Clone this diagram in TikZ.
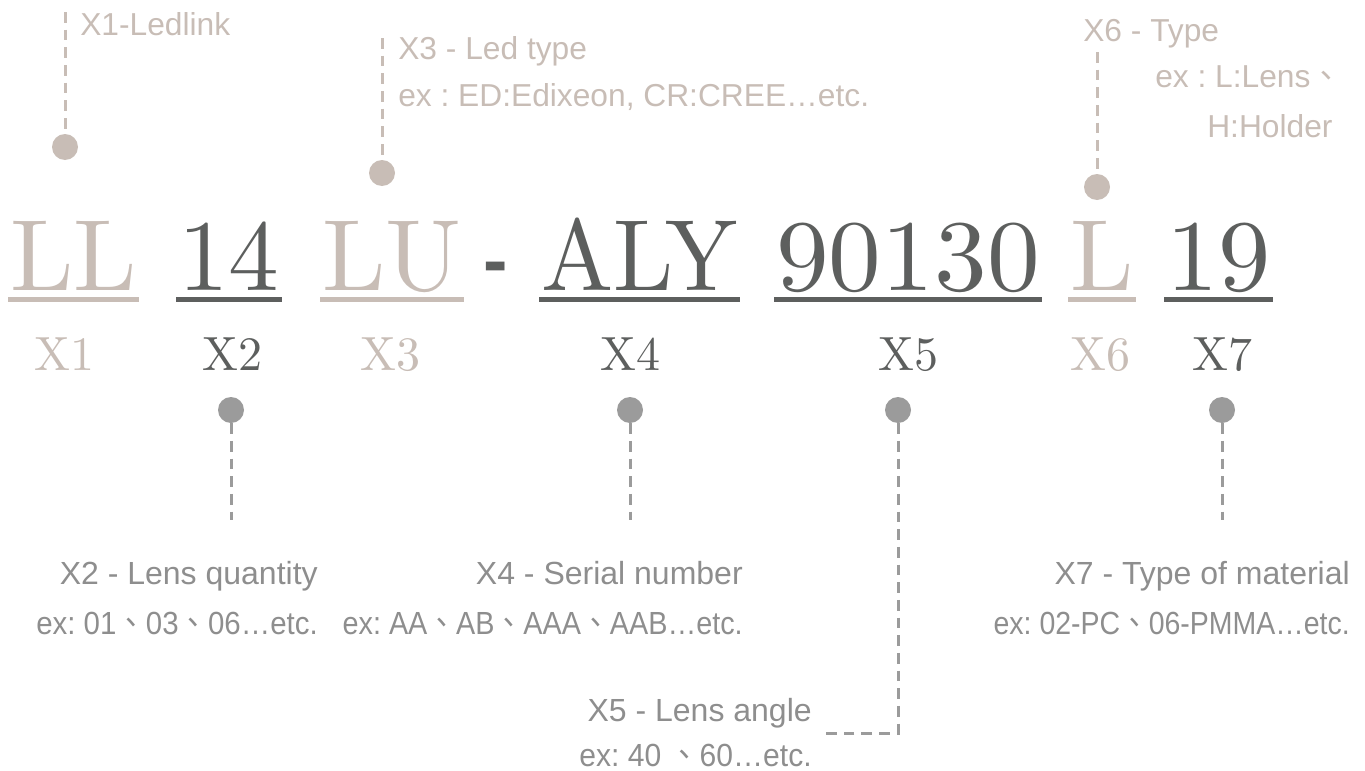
\documentclass[tikz,border=0pt]{standalone}
\usepackage{fontspec}
\usepackage{graphicx}
\newfontfamily\lmten[Extension=.otf]{lmroman10-regular}
\newfontfamily\sans{Liberation Sans}
\newfontfamily\cjk{Noto Sans CJK TC}
\newcommand\dun{\smash{\cjk 、}}
\frenchspacing
\definecolor{beige}{HTML}{C8BDB6}
\definecolor{dark}{HTML}{5D5F5E}
\definecolor{txtgray}{HTML}{8E8E8E}
\definecolor{dotgray}{HTML}{9B9B9B}
\tikzset{
  codetxt/.style={inner sep=0pt, anchor=base west, font=\lmten\fontsize{76}{80}\selectfont},
  lab/.style={inner sep=0pt, anchor=base, font=\lmten\fontsize{36}{40}\selectfont},
  note/.style={inner sep=0pt, font=\sans\fontsize{23.8}{27}\selectfont},
  bnote/.style={inner sep=0pt, anchor=base east, text=txtgray, font=\sans\fontsize{24}{27}\selectfont},
  dot/.style={circle, inner sep=0pt, minimum size=19.5pt},
  lead/.style={line width=2.25pt, dash pattern=on 8pt off 5.25pt},
  uline/.style={line width=3.75pt}
}
\begin{document}
\begin{tikzpicture}[x=0.75pt,y=-0.75pt]
\useasboundingbox (0,0) rectangle (1365,771);
% code letters
\node[codetxt, text=beige] (c1) at (10,290) {LL};
\node[codetxt, text=dark] (c2) at (178,290) {14};
\node[codetxt, text=beige] (c3) at (322,290) {LU};
\node[inner sep=0pt, anchor=base, text=dark, font=\sans\bfseries\fontsize{55}{60}\selectfont] (hy) at (496,285) {-};
\node[codetxt, text=dark] (c4) at (541,290) {\scalebox{0.95}[1]{ALY}};
\node[codetxt, text=dark] (c5) at (776,290) {\scalebox{1.04}[1]{90130}};
\node[codetxt, text=beige] (c6) at (1070,290) {L};
\node[codetxt, text=dark] (c7) at (1166,290) {\scalebox{1.03}[1]{19}};
\foreach \n/\c in {c1/beige,c2/dark,c3/beige,c4/dark,c5/dark,c6/beige,c7/dark}{
  \draw[uline, \c] ([shift={(-2,9)}]\n.base west) -- ([shift={(2,9)}]\n.base east);
}
% X labels
\node[lab, text=beige] (x1) at (65,370) {X1};
\node[lab, text=dark] (x2) at (232,370) {X2};
\node[lab, text=beige] (x3) at (390,370) {X3};
\node[lab, text=dark] (x4) at (630,370) {X4};
\node[lab, text=dark] (x5) at (908,370) {X5};
\node[lab, text=beige] (x6) at (1100,370) {X6};
\node[lab, text=dark] (x7) at (1222,370) {X7};
% top leaders
\node[dot, fill=beige] (d1) at (65,147) {};
\coordinate (t1) at (65,12);
\draw[lead, beige] (t1) -- (d1);
\node[note, text=beige, anchor=base west] (n1) at (80,36) {X1-Ledlink};
\node[dot, fill=beige] (d3) at (382,173) {};
\coordinate (t3) at (382,38);
\draw[lead, beige] (t3) -- (d3);
\node[note, text=beige, anchor=base west] (n3a) at (398,59) {X3 - Led type};
\node[note, text=beige, anchor=base west] (n3b) at (398,106) {ex : ED:Edixeon, CR:CREE…etc.};
\node[dot, fill=beige] (d6) at (1097,187) {};
\coordinate (t6) at (1097,52);
\draw[lead, beige] (t6) -- (d6);
\node[note, text=beige, anchor=base west] (n6a) at (1083,41) {X6 - Type};
\node[note, text=beige, anchor=base west] (n6b) at (1155,87) {ex : L:Lens\dun};
\node[note, text=beige, anchor=base west] (n6c) at (1207,137) {H:Holder};
% bottom leaders
\node[dot, fill=dotgray] (d2) at (231,410) {};
\coordinate (b2) at (231,520);
\draw[lead, dotgray] (d2) -- (b2);
\node[dot, fill=dotgray] (d4) at (630,410) {};
\coordinate (b4) at (630,520);
\draw[lead, dotgray] (d4) -- (b4);
\node[dot, fill=dotgray] (d5) at (898,410) {};
\coordinate (k5) at (898,733);
\coordinate (b5) at (823,733);
\draw[lead, dotgray] (d5) -- (k5) -- (b5);
\node[dot, fill=dotgray] (d7) at (1222,410) {};
\coordinate (b7) at (1222,520);
\draw[lead, dotgray] (d7) -- (b7);
% bottom notes
\node[bnote] (n2a) at (318,584) {X2 - Lens quantity};
\node[bnote] (n2b) at (318,634) {\scalebox{0.92}[1]{ex: 01\dun 03\dun 06…etc.}};
\node[bnote] (n4a) at (743,584) {X4 - Serial number};
\node[bnote] (n4b) at (743,634) {\scalebox{0.9}[1]{ex: AA\dun AB\dun AAA\dun AAB…etc.}};
\node[bnote] (n7a) at (1350,584) {X7 - Type of material};
\node[bnote] (n7b) at (1350,634) {\scalebox{0.89}[1]{ex: 02-PC\dun 06-PMMA…etc.}};
\node[bnote] (n5a) at (812,721) {X5 - Lens angle};
\node[bnote] (n5b) at (812,766) {\scalebox{0.94}[1]{ex: 40 \dun 60…etc.}};
\end{tikzpicture}
\end{document}
